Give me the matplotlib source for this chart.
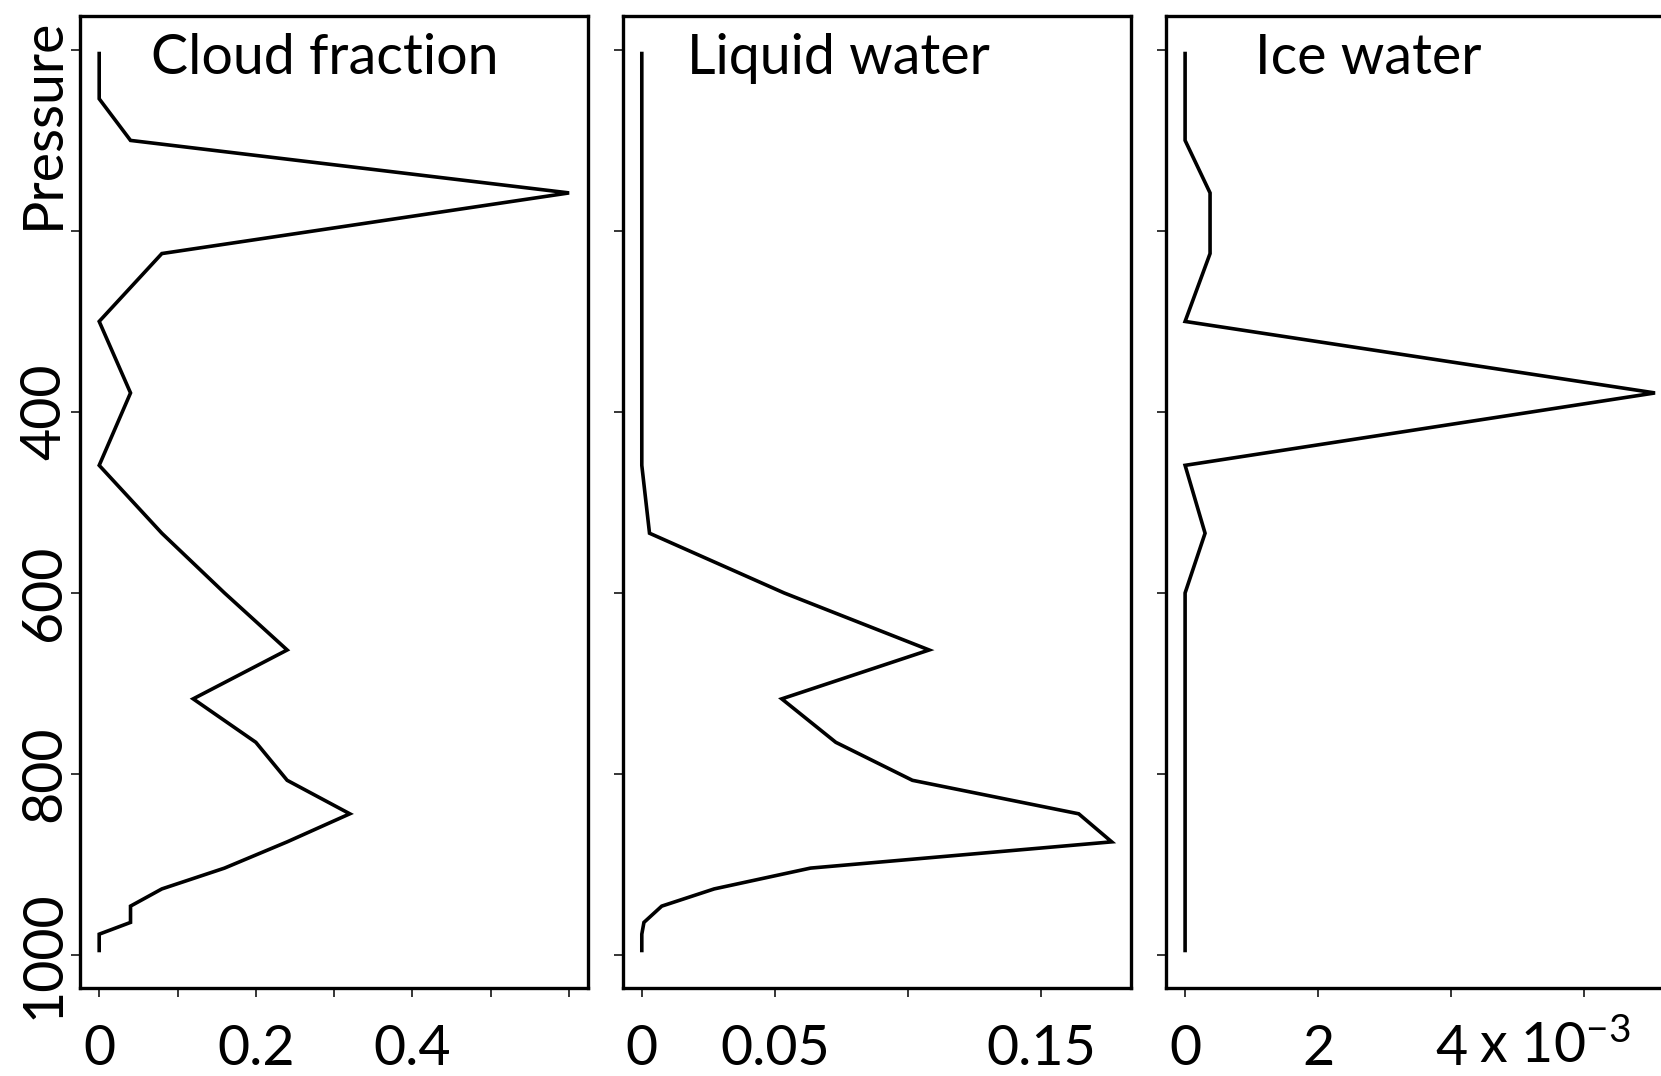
import matplotlib
matplotlib.use('Agg')
import matplotlib.pyplot as plt
import matplotlib.transforms as mtransforms

plt.rcParams['font.family'] = ['Lato', 'DejaVu Sans']
plt.rcParams['mathtext.fontset'] = 'custom'
plt.rcParams['mathtext.rm'] = 'Lato'
plt.rcParams['mathtext.it'] = 'Lato'

# model levels (hPa) and profiles
pressure = [2, 54, 100, 158, 225, 300, 379, 459, 534, 600, 663, 717, 765,
            807, 844, 875, 904, 927, 946, 964, 977, 997]
cloud = [0, 0, 0.04, 0.6, 0.08, 0, 0.04, 0, 0.08, 0.16, 0.24, 0.12, 0.2,
         0.24, 0.32, 0.24, 0.16, 0.08, 0.04, 0.04, 0, 0]
liquid = [0, 0, 0, 0, 0, 0, 0, 0, 0.0029, 0.0535, 0.108, 0.0526, 0.0729,
          0.1017, 0.1642, 0.1766, 0.0634, 0.0272, 0.0075, 0.0008, 0, 0]
ice = [0, 0, 0, 0.375e-3, 0.375e-3, 0, 7.06e-3, 0, 0.3e-3, 0, 0, 0, 0,
       0, 0, 0, 0, 0, 0, 0, 0, 0]

titles = ['Cloud fraction', 'Liquid water', 'Ice water']
yticks = [0, 200, 400, 600, 800, 1000]
ylabels = ['', '', '400', '600', '800', '1000']
xticks = [[0, 0.1, 0.2, 0.3, 0.4, 0.5, 0.6],
          [0, 0.05, 0.1, 0.15],
          [0, 2e-3, 4e-3, 6e-3]]
xlabels = [['0', '', '0.2', '', '0.4', '', ''],
           ['0', '0.05', '', '0.15'],
           ['0', '2', '4', '']]

W, H = 1661, 1076
fig = plt.figure(figsize=(W / 100, H / 100), dpi=100)

# panel edges in pixels (the last one runs off the right edge)
lefts = [80.4, 623.0, 1166.3]
width = 507.5
top, bottom = 15.7, 988.3
title_x = [0.139, 0.126, 0.174]

fs = 40
for i, vals in enumerate([cloud, liquid, ice]):
    ax = fig.add_axes([lefts[i] / W, 1 - bottom / H, width / W, (bottom - top) / H])
    ax.plot(vals, pressure, color='black', lw=2.6, solid_joinstyle='miter',
            solid_capstyle='butt')
    ax.margins(x=0.04, y=0.04)
    ax.invert_yaxis()
    for s in ax.spines.values():
        s.set_linewidth(2.4)
    ax.set_xticks(xticks[i], xlabels[i])
    ax.set_yticks(yticks, ylabels if i == 0 else [''] * len(yticks))
    ax.tick_params(axis='both', direction='out', length=6.5, width=1.1,
                   labelsize=fs, color='black')
    ax.tick_params(axis='x', pad=19.5)
    ax.tick_params(axis='y', pad=8.2)
    if i == 0:
        for lab in ax.get_yticklabels():
            lab.set_rotation(90)
            lab.set_rotation_mode('anchor')
            lab.set_ha('center')
            lab.set_va('baseline')
    ax.text(title_x[i], 0.940, titles[i], transform=ax.transAxes,
            fontsize=fs, ha='left', va='baseline')
    if i == 2:
        trans = mtransforms.blended_transform_factory(ax.transData, ax.transAxes)
        ax.text(4.42e-3, -0.0768, r'x 10$^{-3}$', transform=trans,
                fontsize=fs, ha='left', va='baseline')

fig.text(59 / W, 1 - 123.5 / H, 'Pressure', rotation=90, rotation_mode='anchor',
         ha='center', va='baseline', fontsize=fs)

fig.savefig('out.png', dpi=100)
